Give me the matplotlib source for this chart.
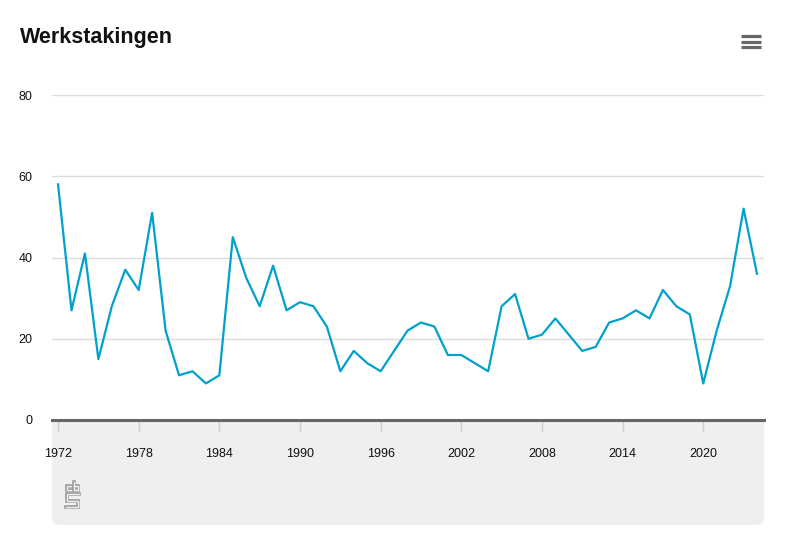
import matplotlib
matplotlib.use("Agg")
import matplotlib.pyplot as plt
from matplotlib.patches import FancyBboxPatch
from matplotlib.lines import Line2D

# Werkstakingen per jaar (CBS)
years = list(range(1972, 2025))
strikes = [58, 27, 41, 15, 28, 37, 32, 51, 22, 11,
           12, 9, 11, 45, 35, 28, 38, 27, 29, 28,
           23, 12, 17, 14, 12, 17, 22, 24, 23, 16,
           16, 14, 12, 28, 31, 20, 21, 25, 21, 17,
           18, 24, 25, 27, 25, 32, 28, 26, 9, 22,
           33, 52, 36]
xticks = list(range(1972, 2021, 6))
yticks = [0, 20, 40, 60, 80]

W, H = 791, 540
fonts = ['Liberation Sans Narrow', 'Liberation Sans', 'DejaVu Sans']
plt.rcParams['font.family'] = fonts

fig = plt.figure(figsize=(W / 100, H / 100), dpi=100)

def fx(px):
    return px / W

def fy(py):
    return 1 - py / H

# grey footer panel
panel = FancyBboxPatch((fx(52), fy(525)), fx(764) - fx(52), fy(405) - fy(525),
                       boxstyle="round,pad=0,rounding_size=0.01",
                       transform=fig.transFigure, facecolor='#efefef',
                       edgecolor='none', zorder=-1)
fig.patches.append(panel)

ax = fig.add_axes([fx(52), fy(420), fx(764) - fx(52), fy(95) - fy(420)])
ax.set_facecolor('white')
ax.plot(years, strikes, color='#00a1cd', lw=1.6, zorder=3)

ax.set_xlim(1971.55, 2024.52)
ax.set_ylim(0, 80)
ax.set_yticks(yticks)
ax.set_xticks(xticks)
ax.grid(axis='y', color='#dcdcdc', lw=1)
ax.set_axisbelow(True)
for s in ['top', 'right', 'left']:
    ax.spines[s].set_visible(False)
ax.spines['bottom'].set_color('#666666')
ax.spines['bottom'].set_linewidth(2.2)
ax.spines['bottom'].set_zorder(4)
ax.tick_params(axis='y', length=0, pad=14, labelsize=9, labelcolor='#111111')
ax.tick_params(axis='x', length=8, width=1, color='#cccccc', pad=12,
               labelsize=9, labelcolor='#111111')

fig.text(fx(20), fy(37), 'Werkstakingen', fontsize=15.5, fontweight='bold',
         va='center', ha='left', color='#111111')

# menu icon
for py in [36, 41.5, 47]:
    fig.add_artist(Line2D([fx(741), fx(761)], [fy(py), fy(py)], color='#666666',
                          lw=2.3, solid_capstyle='butt'))

# small cbs logo, drawn as outlined strokes
segs = [
    [(72, 486), (67, 486), (67, 490), (72, 490)],
    [(74, 482), (74, 490), (78, 490), (78, 486), (74, 486)],
    [(79, 494), (67, 494), (67, 500.5), (78, 500.5), (78, 507), (66, 507)],
]
for seg in segs:
    xs = [fx(p[0]) for p in seg]
    ys = [fy(p[1]) for p in seg]
    fig.add_artist(Line2D(xs, ys, color='#9a9a9a', lw=2.6,
                          solid_joinstyle='miter', solid_capstyle='projecting'))
    fig.add_artist(Line2D(xs, ys, color='#efefef', lw=1.0,
                          solid_joinstyle='miter', solid_capstyle='projecting'))

fig.savefig('out.png', dpi=100)
